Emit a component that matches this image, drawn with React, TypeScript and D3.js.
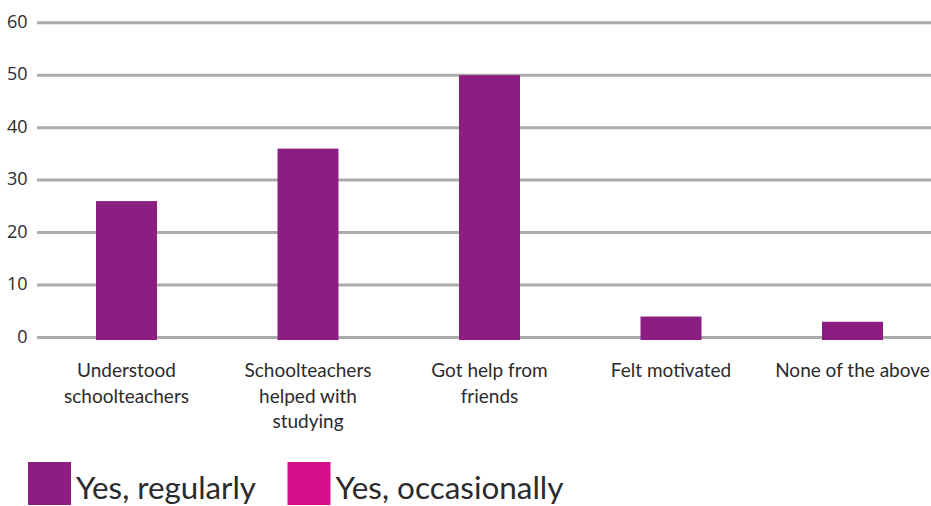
import React from "react";
import * as d3 from "d3";

// Survey answers and their shares (%)
const categories: string[][] = [
  ["Understood", "schoolteachers"],
  ["Schoolteachers", "helped with", "studying"],
  ["Got help from", "friends"],
  ["Felt motivated"],
  ["None of the above"],
];
const regularlyValues: number[] = [26, 36, 50, 4, 3];
const yTicks: number[] = [0, 10, 20, 30, 40, 50, 60];
const legendLabels: string[] = ["Yes, regularly", "Yes, occasionally"];
const legendColors: string[] = ["#8C1E82", "#D30F8B"];

const W = 931;
const H = 506;
const gridLeft = 37;
const textColor = "#2b2a2c";
const catFont = "Lato, 'Open Sans', sans-serif";

export default function App() {
  const y = d3.scaleLinear().domain([0, 60]).range([337.5, 22.7]);
  const x = d3
    .scaleBand<number>()
    .domain(d3.range(categories.length))
    .range([35.75, 35.75 + 181.5 * categories.length])
    .paddingInner(0.664)
    .paddingOuter(0.332);

  return (
    <svg
      width={W}
      height={H}
      style={{ position: "absolute", left: 0, top: 0, display: "block", background: "#fff" }}
    >
      {/* horizontal gridlines and value labels */}
      {yTicks.map((t) => (
        <g key={t}>
          <line x1={gridLeft} x2={W} y1={y(t)} y2={y(t)} stroke="#ababab" strokeWidth={3} />
          <text
            x={27.5}
            y={y(t) + 5}
            textAnchor="end"
            fontFamily="'Open Sans', sans-serif"
            fontSize={18}
            fill={textColor}
          >
            {t}
          </text>
        </g>
      ))}

      {/* bars */}
      {regularlyValues.map((v, i) => (
        <rect
          key={i}
          x={x(i)}
          y={y(v)}
          width={x.bandwidth()}
          height={y(0) + 2.5 - y(v)}
          fill={legendColors[0]}
        />
      ))}

      {/* category labels */}
      {categories.map((lines, i) => (
        <text
          key={i}
          x={(x(i) as number) + x.bandwidth() / 2}
          y={377}
          textAnchor="middle"
          fontFamily={catFont}
          fontSize={19}
          fill={textColor}
        >
          {lines.map((l, j) => (
            <tspan key={j} x={(x(i) as number) + x.bandwidth() / 2} dy={j === 0 ? 0 : 25.5}>
              {l}
            </tspan>
          ))}
        </text>
      ))}

      {/* legend */}
      {legendLabels.map((l, i) => {
        const lx = i === 0 ? 28 : 287.5;
        const tw = i === 0 ? 180 : 228;
        return (
          <g key={l}>
            <rect x={lx} y={462} width={43} height={43} fill={legendColors[i]} />
            <text
              x={lx + 48}
              y={499}
              fontFamily={catFont}
              fontSize={30}
              fill={textColor}
              textLength={tw}
              lengthAdjust="spacingAndGlyphs"
            >
              {l}
            </text>
          </g>
        );
      })}
    </svg>
  );
}
